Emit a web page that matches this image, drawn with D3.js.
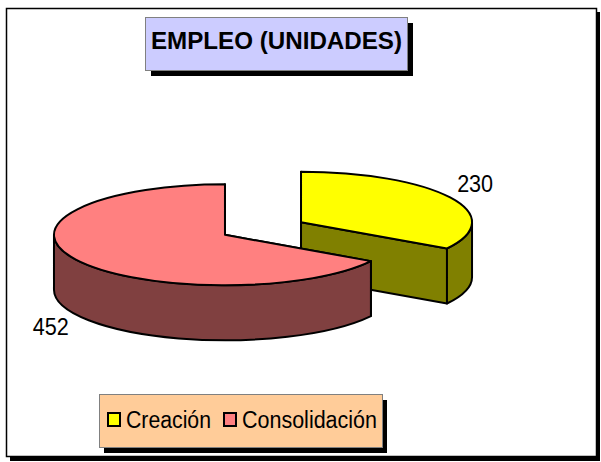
<!DOCTYPE html>
<html lang="es">
<head>
    <meta charset="UTF-8">
    <title>Empleo (unidades)</title>
    <script src="https://cdn.jsdelivr.net/npm/d3@7/dist/d3.min.js"></script>
    <style>
        body{
            margin:0;
            background-color:#ffffff;
        }
        text{
            font-family: "Liberation Sans", Arial, sans-serif;
        }
    </style>
</head>
<body>

<script type="text/javascript">

			// datos
			var categorias = ["Creación", "Consolidación"];
			var valores = [230, 452];
			var colores = ["#ffff00", "#ff8080"];
			var coloresLado = ["#808000", "#804040"];
			var titulo = "EMPLEO (UNIDADES)";

			//Width and height
			var w = 601;
			var h = 462;

			// pie geometry
			var cx = 263, cy = 228.5;
			var rx = 171, ry = 50.5;
			var depth = 55;
			var explode = 43.6;

			var svg = d3.select("body")
						.append("svg")
						.attr("width", w)
						.attr("height", h);

			// outer frame with shadow
			svg.append("rect")
			   .attr("x", 10).attr("y", 12)
			   .attr("width", 590).attr("height", 449)
			   .attr("fill", "#000");
			svg.append("rect")
			   .attr("x", 6.5).attr("y", 8.5)
			   .attr("width", 590).attr("height", 448)
			   .attr("fill", "#fff")
			   .attr("stroke", "#000")
			   .attr("stroke-width", 1.5);

			// title box
			svg.append("rect")
			   .attr("x", 151).attr("y", 23)
			   .attr("width", 262).attr("height", 53)
			   .attr("fill", "#000");
			svg.append("rect")
			   .attr("x", 145.5).attr("y", 17.5)
			   .attr("width", 262).attr("height", 53)
			   .attr("fill", "#ccccff")
			   .attr("stroke", "#808080")
			   .attr("stroke-width", 1);
			svg.append("text")
			   .attr("x", 276.5)
			   .attr("y", 49)
			   .attr("text-anchor", "middle")
			   .attr("font-size", "23px")
			   .attr("font-weight", "bold")
			   .attr("textLength", 251)
			   .attr("lengthAdjust", "spacingAndGlyphs")
			   .attr("fill", "#000")
			   .text(titulo);

			// pie angles (clockwise from 12 o'clock)
			var pie = d3.pie().sort(null).value(function(d) { return d; });
			var arcs = pie(valores);

			function pt(a, c, dy) {
				return [c[0] + rx * Math.sin(a), c[1] - ry * Math.cos(a) + (dy || 0)];
			}

			var slices = arcs.map(function(d, i) {
				var mid = (d.startAngle + d.endAngle) / 2;
				var c = [cx + explode * Math.sin(mid), cy - explode * (ry / rx) * Math.cos(mid)];
				return {arc: d, i: i, mid: mid, c: c};
			});

			// back slices first
			slices.sort(function(a, b) { return a.c[1] - b.c[1]; });

			var pieG = svg.append("g")
						.attr("stroke", "#000")
						.attr("stroke-width", 2)
						.attr("stroke-linejoin", "round");

			slices.forEach(function(s) {
				var a0 = s.arc.startAngle, a1 = s.arc.endAngle, c = s.c;
				var g = pieG.append("g");

				// cut faces
				[a0, a1].forEach(function(a) {
					var p = pt(a, c);
					g.append("path")
					 .attr("d", "M" + c[0] + "," + c[1] + "L" + p[0] + "," + p[1] +
						"L" + p[0] + "," + (p[1] + depth) + "L" + c[0] + "," + (c[1] + depth) + "Z")
					 .attr("fill", coloresLado[s.i]);
				});

				// outer wall (front half only)
				var w0 = Math.max(a0, Math.PI / 2), w1 = Math.min(a1, Math.PI * 1.5);
				if (w1 > w0) {
					var p0 = pt(w0, c), p1 = pt(w1, c);
					var big = (w1 - w0) > Math.PI ? 1 : 0;
					g.append("path")
					 .attr("d", "M" + p0 + "A" + rx + "," + ry + " 0 " + big + " 1 " + p1 +
						"L" + p1[0] + "," + (p1[1] + depth) +
						"A" + rx + "," + ry + " 0 " + big + " 0 " + p0[0] + "," + (p0[1] + depth) + "Z")
					 .attr("fill", coloresLado[s.i]);
				}

				// top
				var t0 = pt(a0, c), t1 = pt(a1, c);
				var bigT = (a1 - a0) > Math.PI ? 1 : 0;
				g.append("path")
				 .attr("d", "M" + c + "L" + t0 + "A" + rx + "," + ry + " 0 " + bigT + " 1 " + t1 + "Z")
				 .attr("fill", colores[s.i]);
			});

			// value labels
			slices.forEach(function(s) {
				var front = Math.cos(s.mid) < 0;
				var lx = s.c[0] + (rx + 8) * Math.sin(s.mid);
				var ly = s.c[1] - (ry + 12) * Math.cos(s.mid) + (front ? depth : 0);
				svg.append("text")
				   .attr("x", lx)
				   .attr("y", ly)
				   .attr("dy", front ? "0.6em" : 0)
				   .attr("text-anchor", Math.sin(s.mid) > 0 ? "start" : "end")
				   .attr("font-size", "24px")
				   .attr("textLength", 36)
				   .attr("lengthAdjust", "spacingAndGlyphs")
				   .attr("fill", "#000")
				   .text(valores[s.i]);
			});

			// legend box
			svg.append("rect")
			   .attr("x", 104).attr("y", 400)
			   .attr("width", 283).attr("height", 53)
			   .attr("fill", "#000");
			svg.append("rect")
			   .attr("x", 99.5).attr("y", 394.5)
			   .attr("width", 283).attr("height", 53)
			   .attr("fill", "#ffcc99")
			   .attr("stroke", "#808080")
			   .attr("stroke-width", 1);

			var legX = [107, 223];
			var legLen = [85, 135];
			var leg = svg.selectAll(".leyenda")
						.data(categorias)
						.enter()
						.append("g")
						.classed("leyenda", true)
						.attr("transform", function(d, i) { return "translate(" + legX[i] + ",412)"; });
			leg.append("rect")
			   .attr("x", 1).attr("y", 1)
			   .attr("width", 12).attr("height", 13)
			   .attr("fill", function(d, i) { return colores[i]; })
			   .attr("stroke", "#000")
			   .attr("stroke-width", 2);
			leg.append("text")
			   .attr("x", 19)
			   .attr("y", 16)
			   .attr("font-size", "23px")
			   .attr("textLength", function(d, i) { return legLen[i]; })
			   .attr("lengthAdjust", "spacingAndGlyphs")
			   .attr("fill", "#000")
			   .text(function(d) { return d; });

		</script>

</body>
</html>
